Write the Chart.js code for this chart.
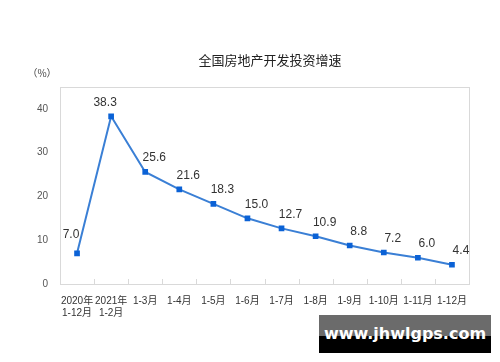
<!DOCTYPE html>
<html><head><meta charset="utf-8">
<script src="https://cdn.jsdelivr.net/npm/chart.js@4"></script>
<style>
html,body{margin:0;padding:0;background:#fff;}
#wrap{position:relative;width:500px;height:362px;}
#wm{position:absolute;left:319px;top:315px;width:172px;height:38px;background:linear-gradient(#6b6b6b 0,#6b6b6b 55%,#000 55%,#000 100%);color:#fff;font:bold 16px "DejaVu Sans",sans-serif;text-align:center;line-height:38px;}
</style></head>
<body><div id="wrap"><canvas id="c" width="500" height="362"></canvas><div id="wm">www.jhwlgps.com</div></div>
<script>
const categories = [["2020年","1-12月"],["2021年","1-2月"],"1-3月","1-4月","1-5月","1-6月","1-7月","1-8月","1-9月","1-10月","1-11月","1-12月"];
const growth = [7.0,38.3,25.6,21.6,18.3,15.0,12.7,10.9,8.8,7.2,6.0,4.4];
const yTicks = [0,10,20,30,40];
const titleText = "全国房地产开发投资增速";
const unitText = "（%）";
const FONT = '"Liberation Sans","Noto Sans CJK SC",sans-serif';

const decor = {
  id:'decor',
  afterDraw(chart){
    const ctx = chart.ctx, a = chart.chartArea;
    ctx.save();
    ctx.strokeStyle = '#d9d9d9'; ctx.lineWidth = 1;
    ctx.strokeRect(Math.round(a.left)+0.5, Math.round(a.top)+0.5, Math.round(a.right-a.left), Math.round(a.bottom-a.top));
    const n = categories.length, w = (a.right-a.left)/n;
    ctx.beginPath();
    for(let i=1;i<n;i++){ const x = Math.round(a.left+i*w)+0.5; ctx.moveTo(x,a.bottom); ctx.lineTo(x,a.bottom-5); }
    ctx.stroke();
    ctx.fillStyle = '#222'; ctx.font = '13px "Noto Sans CJK SC",sans-serif';
    ctx.textAlign='center'; ctx.textBaseline='middle';
    ctx.fillText(titleText, 270, 60);
    ctx.fillStyle = '#444'; ctx.font = '10px "Noto Sans CJK SC",sans-serif';
    ctx.fillText(unitText, 42, 73);
    // data labels: left of the rising segment, right-above on the falling part
    const meta = chart.getDatasetMeta(0);
    ctx.fillStyle = '#333'; ctx.font = '12px '+FONT;
    meta.data.forEach((p,i)=>{
      const rising = i < 2;
      ctx.fillText(growth[i].toFixed(1), p.x + (rising ? -6 : 9), p.y - (i===0 ? 19 : 14));
    });
    ctx.restore();
  }
};

new Chart(document.getElementById('c'), {
  type:'line',
  data:{ labels:categories, datasets:[{ data:growth, borderColor:'#3a7fd5', borderWidth:2, pointStyle:'rect', pointRadius:2.6, pointBackgroundColor:'#0b62d6', pointBorderColor:'#0b62d6', tension:0 }]},
  options:{
    responsive:false, animation:false,
    layout:{ padding:{ top:87, right:31, left:0, bottom:0 } },
    plugins:{ legend:{display:false}, tooltip:{enabled:false}, title:{display:false} },
    scales:{
      x:{ offset:true, grid:{display:false, drawTicks:false}, border:{display:false},
          ticks:{ color:'#333', font:{size:10, family:FONT}, padding:11, maxRotation:0, autoSkip:false },
          afterFit(s){ s.height = 78; } },
      y:{ min:0, max:45, grid:{display:false, drawTicks:false}, border:{display:false},
          afterBuildTicks(s){ s.ticks = yTicks.map(v=>({value:v})); },
          ticks:{ color:'#555', font:{size:10, family:FONT}, padding:12 },
          afterFit(s){ s.width = 60; } }
    }
  },
  plugins:[decor]
});
</script></body></html>
